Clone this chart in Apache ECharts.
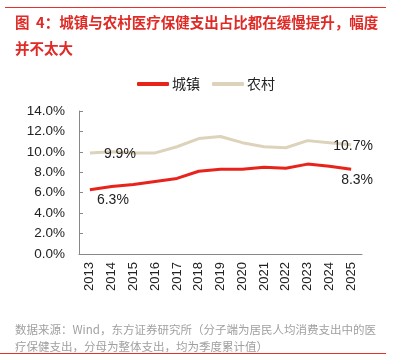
<!DOCTYPE html>
<html><head><meta charset="utf-8">
<script src="https://cdn.jsdelivr.net/npm/echarts@6/dist/echarts.min.js"></script>
<style>html,body{margin:0;padding:0;background:#fff}#wrap{position:relative;width:400px;height:362px}#c{width:400px;height:362px}
.rule{position:absolute;height:1px;background:#e8302a}</style>
</head><body><div id="wrap"><div id="c"></div>
<div class="rule" style="left:5px;top:7px;width:381px"></div>
<div class="rule" style="left:0;top:353px;width:386px"></div></div>
<script>
const years = ['2013','2014','2015','2016','2017','2018','2019','2020','2021','2022','2023','2024','2025'];
const urban = [6.3, 6.6, 6.8, 7.1, 7.4, 8.1, 8.3, 8.3, 8.5, 8.4, 8.8, 8.6, 8.3];
const rural = [9.9, 10.0, 9.9, 9.9, 10.5, 11.3, 11.5, 10.9, 10.5, 10.4, 11.1, 10.9, 10.7];
const yTicks = [0, 2, 4, 6, 8, 10, 12, 14];

const chart = echarts.init(document.getElementById('c'));
const lblFont = {fontFamily: 'Liberation Sans, Arial', fontSize: 14, color: '#222'};
function withLabels(arr, firstOff, lastOff) {
  return arr.map((v, i) => {
    if (i === 0 || i === arr.length - 1) {
      return {value: v, label: Object.assign({show: true, position: 'inside', offset: i === 0 ? firstOff : lastOff,
        formatter: p => p.value.toFixed(1) + '%'}, lblFont)};
    }
    return v;
  });
}
chart.setOption({
  animation: false,
  graphic: {elements: [
    {type: 'text', left: 15, top: 9, style: {text: '图  4：城镇与农村医疗保健支出占比都在缓慢提升，幅度\n并不太大',
      font: 'bold 14.5px "Noto Sans CJK SC"', fill: '#e02a26', lineHeight: 26}},
    {type: 'text', left: 15, top: 321, style: {text: '数据来源：Wind，东方证券研究所（分子端为居民人均消费支出中的医\n疗保健支出，分母为整体支出，均为季度累计值）',
      font: '11.5px "Noto Sans CJK SC"', fill: '#a0a0a0', lineHeight: 17}}
  ]},
  legend: {
    top: 72, left: 132, itemWidth: 32, itemHeight: 4, itemGap: 12,
    icon: 'roundRect',
    textStyle: {fontFamily: 'Noto Sans CJK SC', fontSize: 14, color: '#222', padding: [0, 0, 0, -2]},
    data: ['城镇', '农村']
  },
  grid: {left: 79, right: 38, top: 111, bottom: 108},
  xAxis: {
    type: 'category', data: years, boundaryGap: true,
    axisLine: {lineStyle: {color: '#888'}},
    axisTick: {inside: true, length: 4, lineStyle: {color: '#888'}},
    axisLabel: {rotate: 90, fontFamily: 'Liberation Sans, Arial', fontSize: 13, color: '#222', margin: 8}
  },
  yAxis: {
    type: 'value', min: 0, max: 14, interval: 2,
    axisLine: {show: true, lineStyle: {color: '#888'}},
    axisTick: {show: true, inside: true, length: 4, lineStyle: {color: '#888'}},
    splitLine: {show: false},
    axisLabel: {fontFamily: 'Liberation Sans, Arial', fontSize: 13.5, color: '#222', margin: 14,
      formatter: v => yTicks.includes(v) ? v.toFixed(1) + '%' : ''}
  },
  series: [
    {name: '城镇', type: 'line', data: withLabels(urban, [23, 10], [6, 11]), symbol: 'circle', symbolSize: 0.1,
      showSymbol: true, lineStyle: {color: '#e8231c', width: 3}, itemStyle: {color: '#e8231c'}, z: 3},
    {name: '农村', type: 'line', data: withLabels(rural, [30, 1], [2, 1]), symbol: 'circle', symbolSize: 0.1,
      showSymbol: true, lineStyle: {color: '#ddd3bb', width: 3}, itemStyle: {color: '#ddd3bb'}, z: 2}
  ]
});
</script></body></html>
